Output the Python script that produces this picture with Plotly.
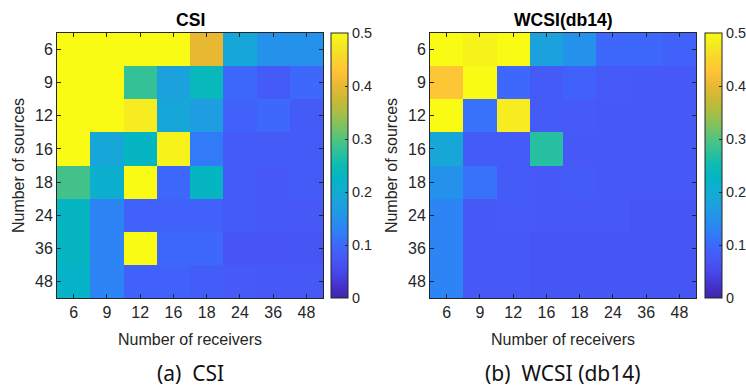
import plotly.graph_objects as go

receivers = ["6", "9", "12", "16", "18", "24", "36", "48"]
sources = ["6", "9", "12", "16", "18", "24", "36", "48"]

# rows = sources (top to bottom), columns = receivers
csi = [
    [0.60, 0.60, 0.60, 0.60, 0.40, 0.19, 0.15, 0.15],
    [0.60, 0.60, 0.28, 0.18, 0.24, 0.10, 0.08, 0.10],
    [0.60, 0.60, 0.48, 0.19, 0.17, 0.09, 0.10, 0.08],
    [0.60, 0.19, 0.23, 0.49, 0.12, 0.08, 0.08, 0.08],
    [0.29, 0.21, 0.60, 0.10, 0.23, 0.08, 0.075, 0.08],
    [0.23, 0.13, 0.09, 0.09, 0.09, 0.08, 0.075, 0.075],
    [0.23, 0.13, 0.60, 0.10, 0.10, 0.07, 0.07, 0.072],
    [0.22, 0.13, 0.09, 0.09, 0.085, 0.078, 0.075, 0.075],
]
wcsi = [
    [0.60, 0.49, 0.60, 0.18, 0.15, 0.10, 0.10, 0.09],
    [0.43, 0.60, 0.10, 0.08, 0.09, 0.078, 0.075, 0.075],
    [0.60, 0.11, 0.48, 0.08, 0.078, 0.075, 0.075, 0.075],
    [0.19, 0.08, 0.08, 0.27, 0.075, 0.075, 0.075, 0.075],
    [0.15, 0.11, 0.08, 0.075, 0.08, 0.075, 0.075, 0.075],
    [0.13, 0.075, 0.078, 0.075, 0.075, 0.075, 0.072, 0.072],
    [0.13, 0.075, 0.075, 0.072, 0.072, 0.072, 0.072, 0.072],
    [0.13, 0.075, 0.075, 0.072, 0.072, 0.072, 0.072, 0.072],
]
titles = ["CSI", "WCSI(db14)"]
captions = ["(a)\u00a0 CSI", "(b)\u00a0 WCSI (db14)"]
cbar_ticks = [0, 0.1, 0.2, 0.3, 0.4, 0.5]

parula = [
    [0.00, "rgb(62,38,168)"],
    [0.05, "rgb(68,52,205)"],
    [0.10, "rgb(71,72,235)"],
    [0.15, "rgb(70,88,246)"],
    [0.20, "rgb(62,104,252)"],
    [0.25, "rgb(46,128,248)"],
    [0.30, "rgb(36,146,235)"],
    [0.35, "rgb(29,160,223)"],
    [0.40, "rgb(18,172,211)"],
    [0.45, "rgb(3,181,198)"],
    [0.50, "rgb(12,187,180)"],
    [0.55, "rgb(44,192,155)"],
    [0.60, "rgb(80,196,126)"],
    [0.65, "rgb(128,193,96)"],
    [0.70, "rgb(168,190,70)"],
    [0.75, "rgb(203,185,54)"],
    [0.80, "rgb(232,184,50)"],
    [0.85, "rgb(254,194,56)"],
    [0.90, "rgb(250,212,44)"],
    [0.95, "rgb(245,232,34)"],
    [1.00, "rgb(249,251,20)"],
]

W, H = 746, 386
def px(v):
    return v / W
def py(v):
    return 1 - v / H

fig = go.Figure()
plots = [
    dict(x0=57, x1=323, cb=331),
    dict(x0=430, x1=696, cb=705),
]
top, bot = 33, 298
font = "Liberation Sans, Arial, sans-serif"
axis_color = "#262626"

for i, (data, p) in enumerate(zip([csi, wcsi], plots)):
    n = "" if i == 0 else str(i + 1)
    ca = "coloraxis" + n
    fig.add_trace(go.Heatmap(z=data, x=receivers, y=sources, coloraxis=ca,
                             xaxis="x" + n, yaxis="y" + n, xgap=0, ygap=0))
    fig.layout[ca] = dict(
        colorscale=parula, cmin=0, cmax=0.5,
        colorbar=dict(
            x=px(p["cb"]), xanchor="left", xref="paper",
            y=py(bot), yanchor="bottom",
            len=bot - top, lenmode="pixels",
            thickness=17, thicknessmode="pixels",
            outlinewidth=1, outlinecolor=axis_color,
            ticks="inside", ticklen=3, tickcolor=axis_color,
            tickvals=cbar_ticks, ticktext=[f"{t:g}" for t in cbar_ticks],
            tickfont=dict(family=font, size=14.4, color=axis_color),
            xpad=0, ypad=0,
        ),
    )
    fig.layout["xaxis" + n] = dict(
        domain=[px(p["x0"]), px(p["x1"])], anchor="y" + n,
        type="category", showgrid=False, zeroline=False,
        showline=True, linecolor=axis_color, linewidth=1, mirror="ticks",
        ticks="inside", ticklen=4, tickcolor=axis_color,
        tickfont=dict(family=font, size=16, color=axis_color),
        title=dict(text="Number of receivers", standoff=13,
                   font=dict(family=font, size=16, color=axis_color)),
    )
    fig.layout["yaxis" + n] = dict(
        domain=[py(bot), py(top)], anchor="x" + n,
        type="category", autorange="reversed", showgrid=False, zeroline=False,
        showline=True, linecolor=axis_color, linewidth=1, mirror="ticks",
        ticks="inside", ticklen=4, tickcolor=axis_color,
        tickfont=dict(family=font, size=16, color=axis_color),
        title=dict(text="Number of sources", standoff=6,
                   font=dict(family=font, size=16, color=axis_color)),
    )
    cx = px((p["x0"] + p["x1"]) / 2)
    fig.add_annotation(text="<b>" + titles[i] + "</b>", x=cx, y=py(20),
                       xref="paper", yref="paper", showarrow=False,
                       xanchor="center", yanchor="middle",
                       font=dict(family=font, size=17.6, color="black"))
    fig.add_annotation(text=captions[i], x=cx, y=py(373),
                       xref="paper", yref="paper", showarrow=False,
                       xanchor="center", yanchor="middle",
                       font=dict(family="Noto Sans, Open Sans, sans-serif", size=21, color="#111111"))

fig.update_layout(width=W, height=H,
                  margin=dict(l=0, r=0, t=0, b=0, autoexpand=False),
                  paper_bgcolor="white", plot_bgcolor="white", showlegend=False)
fig.write_html("out.html", config={"displayModeBar": False},
               post_script="document.body.style.margin='0px';")
